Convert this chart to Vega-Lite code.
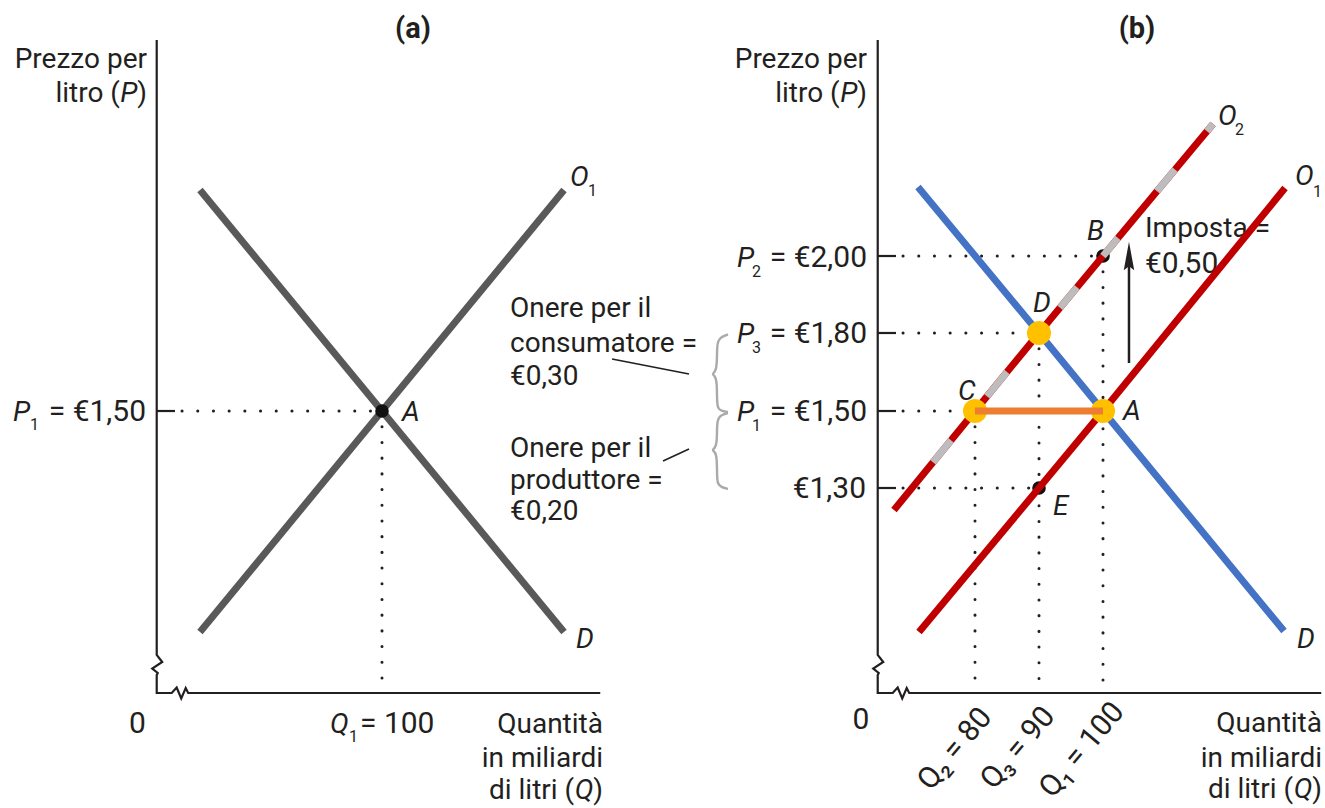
{
  "$schema": "https://vega.github.io/schema/vega-lite/v6.json",
  "width": 1325,
  "height": 808,
  "autosize": {"type": "none"},
  "padding": 0,
  "background": "white",
  "config": {
    "view": {"stroke": null},
    "text": {"font": "Roboto", "fontSize": 28, "color": "#231f20"}
  },
  "datasets": {
    "axes": [
      {"o": 1, "q": 64.8, "p": 2.6968},
      {"o": 2, "q": 64.8, "p": 0.7613},
      {"o": 3, "q": 65.66, "p": 0.7387},
      {"o": 4, "q": 64.1, "p": 0.7177},
      {"o": 5, "q": 64.96, "p": 0.7032},
      {"o": 6, "q": 64.8, "p": 0.6968},
      {"o": 7, "q": 64.8, "p": 0.6387},
      {"o": 8, "q": 67.14, "p": 0.6387},
      {"o": 9, "q": 67.92, "p": 0.6565},
      {"o": 10, "q": 68.63, "p": 0.621},
      {"o": 11, "q": 69.33, "p": 0.6548},
      {"o": 12, "q": 69.72, "p": 0.6387},
      {"o": 13, "q": 134.1, "p": 0.6387}
    ],
    "a_curves": [
      {"id": "D", "o": 1, "q": 71.56, "p": 2.2129},
      {"id": "D", "o": 2, "q": 128.44, "p": 0.8355},
      {"id": "O", "o": 1, "q": 71.56, "p": 0.8355},
      {"id": "O", "o": 2, "q": 128.44, "p": 2.2129}
    ],
    "a_dotted": [
      {"id": "h", "o": 1, "q": 68.75, "p": 1.5},
      {"id": "h", "o": 2, "q": 100, "p": 1.5},
      {"id": "v", "o": 1, "q": 100, "p": 1.5},
      {"id": "v", "o": 2, "q": 100, "p": 0.6387}
    ],
    "a_ticks": [{"q": 64.8, "q2": 67.66, "p": 1.5}],
    "a_point": [{"q": 100, "p": 1.5}],
    "a_leaders": [
      {"id": 1, "o": 1, "q": 135.94, "p": 1.7},
      {"id": 1, "o": 2, "q": 147.97, "p": 1.6423},
      {"id": 2, "o": 1, "q": 143.91, "p": 1.3701},
      {"id": 2, "o": 2, "q": 147.97, "p": 1.4013}
    ],
    "a_braces": [
      {"id": 1, "o": 1, "q": 154.06, "p": 1.7948},
      {"id": 1, "o": 2, "q": 152.97, "p": 1.7846},
      {"id": 1, "o": 3, "q": 152.5, "p": 1.7692},
      {"id": 1, "o": 4, "q": 152.34, "p": 1.7462},
      {"id": 1, "o": 5, "q": 152.34, "p": 1.6731},
      {"id": 1, "o": 6, "q": 152.03, "p": 1.65},
      {"id": 1, "o": 7, "q": 151.56, "p": 1.6423},
      {"id": 1, "o": 8, "q": 152.03, "p": 1.6346},
      {"id": 1, "o": 9, "q": 152.34, "p": 1.6115},
      {"id": 1, "o": 10, "q": 152.34, "p": 1.5308},
      {"id": 1, "o": 11, "q": 152.5, "p": 1.5115},
      {"id": 1, "o": 12, "q": 152.97, "p": 1.5},
      {"id": 1, "o": 13, "q": 154.06, "p": 1.4974},
      {"id": 2, "o": 1, "q": 154.06, "p": 1.4948},
      {"id": 2, "o": 2, "q": 152.97, "p": 1.4896},
      {"id": 2, "o": 3, "q": 152.5, "p": 1.4792},
      {"id": 2, "o": 4, "q": 152.34, "p": 1.4662},
      {"id": 2, "o": 5, "q": 152.34, "p": 1.4169},
      {"id": 2, "o": 6, "q": 152.03, "p": 1.4039},
      {"id": 2, "o": 7, "q": 151.56, "p": 1.3987},
      {"id": 2, "o": 8, "q": 152.03, "p": 1.3935},
      {"id": 2, "o": 9, "q": 152.34, "p": 1.3805},
      {"id": 2, "o": 10, "q": 152.34, "p": 1.3234},
      {"id": 2, "o": 11, "q": 152.5, "p": 1.3104},
      {"id": 2, "o": 12, "q": 152.97, "p": 1.3026},
      {"id": 2, "o": 13, "q": 154.06, "p": 1.2968}
    ],
    "a_txt_right": [
      {"t": "Prezzo per", "q": 63.28, "p": 2.6065},
      {"t": ")", "q": 63.28, "p": 2.4968},
      {"t": "litro (", "q": 59.05, "p": 2.4968},
      {"t": "Quantità", "q": 134.53, "p": 0.5097},
      {"t": "in miliardi", "q": 134.53, "p": 0.4},
      {"t": ")", "q": 134.53, "p": 0.2968},
      {"t": "di litri (", "q": 130.02, "p": 0.2968}
    ],
    "a_txt_right_it": [
      {"t": "P", "q": 61.78, "p": 2.4968},
      {"t": "Q", "q": 133.03, "p": 0.2968}
    ],
    "a_num_right": [{"t": "= €1,50", "q": 63.125, "p": 1.474}],
    "a_num_left": [{"t": "= 100", "q": 96.56, "p": 0.5097}],
    "a_txt_left": [
      {"t": "Onere per il", "q": 120.0, "p": 1.8416},
      {"t": "consumatore =", "q": 120.0, "p": 1.7269},
      {"t": "€0,30", "q": 120.0, "p": 1.6},
      {"t": "Onere per il", "q": 120.0, "p": 1.3805},
      {"t": "produttore =", "q": 120.0, "p": 1.2968},
      {"t": "€0,20", "q": 120.0, "p": 1.1968}
    ],
    "a_num_center": [{"t": "0", "q": 61.8, "p": 0.5097}],
    "a_txt_it": [
      {"t": "P", "q": 42.34, "p": 1.474},
      {"t": "A", "q": 103.125, "p": 1.474},
      {"t": "Q", "q": 91.875, "p": 0.5097},
      {"t": "O", "q": 129.375, "p": 2.2258},
      {"t": "D", "q": 130.31, "p": 0.7839}
    ],
    "a_txt_sub": [
      {"t": "1", "q": 45.0, "p": 1.4506},
      {"t": "1", "q": 94.84, "p": 0.4806},
      {"t": "1", "q": 132.19, "p": 2.1935}
    ],
    "a_txt_bold": [{"t": "(a)", "q": 104.84, "p": 2.7032}],
    "b_demand": [
      {"o": 1, "q": 71.09, "p": 2.2226},
      {"o": 2, "q": 90, "p": 1.8},
      {"o": 3, "q": 100, "p": 1.5},
      {"o": 4, "q": 128.28, "p": 0.8387}
    ],
    "b_o1": [
      {"o": 1, "q": 71.25, "p": 0.8355},
      {"o": 2, "q": 90, "p": 1.3},
      {"o": 3, "q": 100, "p": 1.5},
      {"o": 4, "q": 128.44, "p": 2.2194}
    ],
    "b_o2": [
      {"o": 1, "q": 67.34, "p": 1.229},
      {"o": 2, "q": 80, "p": 1.5},
      {"o": 3, "q": 90, "p": 1.8},
      {"o": 4, "q": 100, "p": 2.0},
      {"o": 5, "q": 117.19, "p": 2.4258}
    ],
    "b_o2gray": [
      {"id": 1, "o": 1, "q": 73.44, "p": 1.3668},
      {"id": 1, "o": 2, "q": 76.25, "p": 1.4239},
      {"id": 2, "o": 1, "q": 81.875, "p": 1.5562},
      {"id": 2, "o": 2, "q": 85.0, "p": 1.65},
      {"id": 3, "o": 1, "q": 93.28, "p": 1.8657},
      {"id": 3, "o": 2, "q": 95.94, "p": 1.9187},
      {"id": 4, "o": 1, "q": 100, "p": 2.0},
      {"id": 4, "o": 2, "q": 102.34, "p": 2.0581},
      {"id": 5, "o": 1, "q": 108.44, "p": 2.209},
      {"id": 5, "o": 2, "q": 111.25, "p": 2.2787},
      {"id": 6, "o": 1, "q": 116.25, "p": 2.4026},
      {"id": 6, "o": 2, "q": 117.19, "p": 2.4258}
    ],
    "b_dotted": [
      {"id": "h2", "o": 1, "q": 68.75, "p": 2.0},
      {"id": "h2", "o": 2, "q": 100, "p": 2.0},
      {"id": "h3", "o": 1, "q": 68.75, "p": 1.8},
      {"id": "h3", "o": 2, "q": 90, "p": 1.8},
      {"id": "h1", "o": 1, "q": 68.75, "p": 1.5},
      {"id": "h1", "o": 2, "q": 100, "p": 1.5},
      {"id": "h0", "o": 1, "q": 68.75, "p": 1.3},
      {"id": "h0", "o": 2, "q": 90, "p": 1.3},
      {"id": "v80", "o": 1, "q": 80, "p": 1.5},
      {"id": "v80", "o": 2, "q": 80, "p": 0.6387},
      {"id": "v90", "o": 1, "q": 90, "p": 1.8},
      {"id": "v90", "o": 2, "q": 90, "p": 0.6387},
      {"id": "v100", "o": 1, "q": 100, "p": 2.0},
      {"id": "v100", "o": 2, "q": 100, "p": 0.6387}
    ],
    "b_ticks": [
      {"q": 64.8, "q2": 67.66, "p": 2.0},
      {"q": 64.8, "q2": 67.66, "p": 1.8},
      {"q": 64.8, "q2": 67.66, "p": 1.5},
      {"q": 64.8, "q2": 67.66, "p": 1.3}
    ],
    "b_black": [{"q": 100, "p": 2.0}, {"q": 90, "p": 1.3}],
    "b_yellow": [{"q": 90, "p": 1.8}, {"q": 80, "p": 1.5}, {"q": 100, "p": 1.5}],
    "b_tax": [{"o": 1, "q": 80, "p": 1.5}, {"o": 2, "q": 100, "p": 1.5}],
    "b_shaft": [{"q": 104.06, "p": 1.6846, "p2": 2.0}],
    "b_head": [{"q": 104.06, "p": 2.0}],
    "b_txt_right": [
      {"t": "Prezzo per", "q": 63.125, "p": 2.6065},
      {"t": ")", "q": 63.125, "p": 2.4968},
      {"t": "litro (", "q": 58.86, "p": 2.4968},
      {"t": "Quantità", "q": 134.22, "p": 0.5129},
      {"t": "in miliardi", "q": 134.22, "p": 0.4},
      {"t": ")", "q": 134.22, "p": 0.3},
      {"t": "di litri (", "q": 129.7, "p": 0.3}
    ],
    "b_txt_right_it": [
      {"t": "P", "q": 61.625, "p": 2.4968},
      {"t": "Q", "q": 132.72, "p": 0.3}
    ],
    "b_num_right": [
      {"t": "= €2,00", "q": 63.125, "p": 1.9714},
      {"t": "= €1,80", "q": 63.125, "p": 1.7615},
      {"t": "= €1,50", "q": 63.125, "p": 1.474},
      {"t": "€1,30", "q": 62.97, "p": 1.2677}
    ],
    "b_txt_left": [{"t": "Imposta =", "q": 106.56, "p": 2.0613}],
    "b_num_left": [{"t": "€0,50", "q": 106.56, "p": 1.9558}],
    "b_num_center": [{"t": "0", "q": 62.19, "p": 0.5226}],
    "b_txt_it": [
      {"t": "P", "q": 42.81, "p": 1.9714},
      {"t": "P", "q": 42.81, "p": 1.7615},
      {"t": "P", "q": 42.81, "p": 1.474},
      {"t": "B", "q": 97.5, "p": 2.0516},
      {"t": "D", "q": 89.06, "p": 1.8545},
      {"t": "C", "q": 77.34, "p": 1.5423},
      {"t": "A", "q": 103.125, "p": 1.4766},
      {"t": "E", "q": 92.19, "p": 1.2129},
      {"t": "O", "q": 117.97, "p": 2.4226},
      {"t": "O", "q": 130.0, "p": 2.229},
      {"t": "D", "q": 130.31, "p": 0.7839}
    ],
    "b_txt_sub": [
      {"t": "2", "q": 45.16, "p": 1.9455},
      {"t": "3", "q": 45.16, "p": 1.7231},
      {"t": "1", "q": 45.16, "p": 1.4481},
      {"t": "2", "q": 120.625, "p": 2.3903},
      {"t": "1", "q": 132.81, "p": 2.1903}
    ],
    "b_txt_bold": [{"t": "(b)", "q": 105.31, "p": 2.7032}],
    "b_txt_rot": [
      {"t": "Q₂ = 80", "q": 76.875, "p": 0.4581},
      {"t": "Q₃ = 90", "q": 86.72, "p": 0.4613},
      {"t": "Q₁ = 100", "q": 96.72, "p": 0.4548}
    ]
  },
  "encoding": {
    "y": {
      "field": "p",
      "type": "quantitative",
      "axis": null,
      "scale": {
        "domain": [0.2677, 1.3, 1.5, 1.8, 2.0, 2.8258],
        "range": [808, 488, 411, 333, 256, 0],
        "nice": false,
        "zero": false
      }
    }
  },
  "resolve": {"scale": {"x": "independent"}},
  "layer": [
    {
      "encoding": {
        "x": {
          "field": "q",
          "type": "quantitative",
          "axis": null,
          "scale": {"domain": [40.3125, 247.34375], "nice": false, "zero": false}
        }
      },
      "layer": [
        {"data": {"name": "a_txt_right"}, "mark": {"type": "text", "align": "right", "baseline": "alphabetic"}, "encoding": {"text": {"field": "t"}}},
        {"data": {"name": "a_txt_right_it"}, "mark": {"type": "text", "align": "right", "baseline": "alphabetic", "fontStyle": "italic"}, "encoding": {"text": {"field": "t"}}},
        {"data": {"name": "a_num_right"}, "mark": {"type": "text", "align": "right", "baseline": "alphabetic", "fontSize": 30}, "encoding": {"text": {"field": "t"}}},
        {"data": {"name": "a_txt_left"}, "mark": {"type": "text", "align": "left", "baseline": "alphabetic"}, "encoding": {"text": {"field": "t"}}},
        {"data": {"name": "a_num_left"}, "mark": {"type": "text", "align": "left", "baseline": "alphabetic", "fontSize": 30}, "encoding": {"text": {"field": "t"}}},
        {"data": {"name": "a_num_center"}, "mark": {"type": "text", "align": "center", "baseline": "alphabetic", "fontSize": 30}, "encoding": {"text": {"field": "t"}}},
        {"data": {"name": "a_txt_it"}, "mark": {"type": "text", "align": "left", "baseline": "alphabetic", "fontStyle": "italic"}, "encoding": {"text": {"field": "t"}}},
        {"data": {"name": "a_txt_sub"}, "mark": {"type": "text", "align": "left", "baseline": "alphabetic", "fontSize": 16}, "encoding": {"text": {"field": "t"}}},
        {"data": {"name": "a_txt_bold"}, "mark": {"type": "text", "align": "center", "baseline": "alphabetic", "fontWeight": "bold", "fontSize": 29}, "encoding": {"text": {"field": "t"}}},
        {"data": {"name": "a_dotted"}, "mark": {"type": "line", "color": "#231f20", "strokeWidth": 3, "strokeCap": "round", "strokeDash": [0.1, 15.6]}, "encoding": {"detail": {"field": "id"}, "order": {"field": "o"}}},
        {"data": {"name": "a_ticks"}, "mark": {"type": "rule", "color": "#231f20", "strokeWidth": 2.2}, "encoding": {"x2": {"field": "q2"}}},
        {"data": {"name": "axes"}, "mark": {"type": "line", "color": "#231f20", "strokeWidth": 2.2, "strokeJoin": "miter"}, "encoding": {"order": {"field": "o"}}},
        {"data": {"name": "a_leaders"}, "mark": {"type": "line", "color": "#231f20", "strokeWidth": 1.6}, "encoding": {"detail": {"field": "id"}, "order": {"field": "o"}}},
        {"data": {"name": "a_braces"}, "mark": {"type": "line", "color": "#aaaaaa", "strokeWidth": 2.4, "interpolate": "basis"}, "encoding": {"detail": {"field": "id"}, "order": {"field": "o"}}},
        {"data": {"name": "a_curves"}, "mark": {"type": "line", "color": "#595959", "strokeWidth": 7, "strokeCap": "butt"}, "encoding": {"detail": {"field": "id"}, "order": {"field": "o"}}},
        {"data": {"name": "a_point"}, "mark": {"type": "point", "shape": "circle", "filled": true, "size": 185, "color": "#111111", "opacity": 1, "strokeWidth": 0}}
      ]
    },
    {
      "encoding": {
        "x": {
          "field": "q",
          "type": "quantitative",
          "axis": null,
          "scale": {"domain": [-72.34375, 134.6875], "nice": false, "zero": false}
        }
      },
      "layer": [
        {"data": {"name": "b_txt_right"}, "mark": {"type": "text", "align": "right", "baseline": "alphabetic"}, "encoding": {"text": {"field": "t"}}},
        {"data": {"name": "b_txt_right_it"}, "mark": {"type": "text", "align": "right", "baseline": "alphabetic", "fontStyle": "italic"}, "encoding": {"text": {"field": "t"}}},
        {"data": {"name": "b_num_right"}, "mark": {"type": "text", "align": "right", "baseline": "alphabetic", "fontSize": 30}, "encoding": {"text": {"field": "t"}}},
        {"data": {"name": "b_txt_left"}, "mark": {"type": "text", "align": "left", "baseline": "alphabetic"}, "encoding": {"text": {"field": "t"}}},
        {"data": {"name": "b_num_left"}, "mark": {"type": "text", "align": "left", "baseline": "alphabetic", "fontSize": 30}, "encoding": {"text": {"field": "t"}}},
        {"data": {"name": "b_num_center"}, "mark": {"type": "text", "align": "center", "baseline": "alphabetic", "fontSize": 30}, "encoding": {"text": {"field": "t"}}},
        {"data": {"name": "b_txt_it"}, "mark": {"type": "text", "align": "left", "baseline": "alphabetic", "fontStyle": "italic"}, "encoding": {"text": {"field": "t"}}},
        {"data": {"name": "b_txt_sub"}, "mark": {"type": "text", "align": "left", "baseline": "alphabetic", "fontSize": 16}, "encoding": {"text": {"field": "t"}}},
        {"data": {"name": "b_txt_bold"}, "mark": {"type": "text", "align": "center", "baseline": "alphabetic", "fontWeight": "bold", "fontSize": 29}, "encoding": {"text": {"field": "t"}}},
        {"data": {"name": "b_txt_rot"}, "mark": {"type": "text", "align": "center", "baseline": "middle", "angle": -50, "fontSize": 30}, "encoding": {"text": {"field": "t"}}},
        {"data": {"name": "b_dotted"}, "mark": {"type": "line", "color": "#231f20", "strokeWidth": 3, "strokeCap": "round", "strokeDash": [0.1, 15.6]}, "encoding": {"detail": {"field": "id"}, "order": {"field": "o"}}},
        {"data": {"name": "b_ticks"}, "mark": {"type": "rule", "color": "#231f20", "strokeWidth": 2.2}, "encoding": {"x2": {"field": "q2"}}},
        {"data": {"name": "axes"}, "mark": {"type": "line", "color": "#231f20", "strokeWidth": 2.2, "strokeJoin": "miter"}, "encoding": {"order": {"field": "o"}}},
        {"data": {"name": "b_demand"}, "mark": {"type": "line", "color": "#4472C4", "strokeWidth": 7, "strokeCap": "butt"}, "encoding": {"order": {"field": "o"}}},
        {"data": {"name": "b_black"}, "mark": {"type": "point", "shape": "circle", "filled": true, "size": 185, "color": "#111111", "opacity": 1, "strokeWidth": 0}},
        {"data": {"name": "b_o1"}, "mark": {"type": "line", "color": "#C00000", "strokeWidth": 7, "strokeCap": "butt"}, "encoding": {"order": {"field": "o"}}},
        {"data": {"name": "b_o2"}, "mark": {"type": "line", "color": "#C00000", "strokeWidth": 7, "strokeCap": "butt"}, "encoding": {"order": {"field": "o"}}},
        {"data": {"name": "b_o2gray"}, "mark": {"type": "line", "color": "#BDBDBD", "strokeWidth": 7, "strokeCap": "butt"}, "encoding": {"detail": {"field": "id"}, "order": {"field": "o"}}},
        {"data": {"name": "b_yellow"}, "mark": {"type": "point", "shape": "circle", "filled": true, "size": 576, "color": "#FFC000", "opacity": 1, "strokeWidth": 0}},
        {"data": {"name": "b_tax"}, "mark": {"type": "line", "color": "#ED7D31", "strokeWidth": 7, "strokeCap": "butt"}, "encoding": {"order": {"field": "o"}}},
        {"data": {"name": "b_shaft"}, "mark": {"type": "rule", "color": "#231f20", "strokeWidth": 2.5}, "encoding": {"y2": {"field": "p2"}}},
        {"data": {"name": "b_head"}, "mark": {"type": "point", "shape": "M0,-1L0.37,1L0,0.72L-0.37,1Z", "filled": true, "size": 800, "color": "#231f20", "opacity": 1, "strokeWidth": 0}}
      ]
    }
  ]
}
